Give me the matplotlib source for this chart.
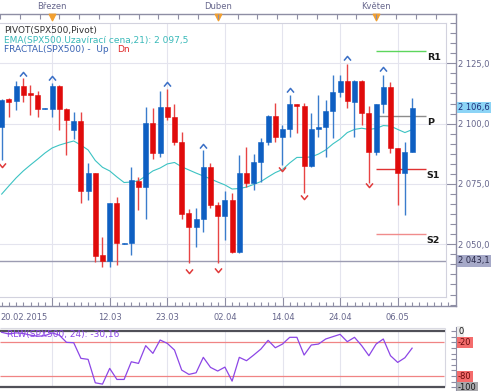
import numpy as np
import matplotlib
matplotlib.use("Agg")
import matplotlib.pyplot as plt
from matplotlib.path import Path
from matplotlib.ticker import MultipleLocator, FixedLocator, FuncFormatter

# daily candles SPX500, 20.02.2015 - 08.05.2015
opens = [2098.7, 2110.0, 2109.3, 2115.6, 2112.6, 2112.0, 2106.1, 2106.2, 2115.7, 2106.2,
         2097.4, 2101.2, 2072.2, 2079.4, 2045.6, 2043.2, 2067.0, 2050.3, 2050.4, 2076.3,
         2073.6, 2100.4, 2087.7, 2106.8, 2102.9, 2092.5, 2062.8, 2057.3, 2060.6, 2081.9,
         2066.2, 2061.7, 2068.3, 2046.9, 2079.7, 2075.5, 2084.1, 2092.4, 2103.2, 2094.3,
         2097.6, 2108.0, 2107.3, 2082.4, 2097.6, 2098.5, 2105.2, 2113.0, 2117.7, 2109.1,
         2117.8, 2104.3, 2088.4, 2108.0, 2115.3, 2089.8, 2079.7, 2088.4]
highs = [2110.1, 2110.5, 2117.8, 2118.8, 2116.0, 2113.6, 2106.4, 2116.7, 2115.9, 2106.4,
         2104.7, 2104.7, 2083.6, 2079.5, 2053.1, 2067.2, 2069.7, 2050.6, 2081.9, 2078.0,
         2106.8, 2106.4, 2113.6, 2114.2, 2108.1, 2096.7, 2064.5, 2064.9, 2089.1, 2083.6,
         2067.6, 2072.2, 2071.1, 2087.0, 2090.2, 2087.4, 2093.9, 2103.6, 2108.4, 2099.4,
         2111.9, 2108.2, 2108.4, 2104.3, 2111.9, 2109.8, 2120.2, 2120.2, 2124.8, 2117.9,
         2118.0, 2107.3, 2108.1, 2120.2, 2117.4, 2090.0, 2092.5, 2110.5]
lows = [2084.9, 2102.6, 2105.6, 2108.8, 2103.6, 2102.6, 2106.0, 2102.6, 2097.4, 2087.0,
        2093.5, 2067.2, 2068.3, 2042.8, 2040.7, 2040.5, 2041.4, 2050.2, 2045.6, 2064.2,
        2060.4, 2085.2, 2086.3, 2101.5, 2091.1, 2060.4, 2042.1, 2048.7, 2055.1, 2064.9,
        2042.1, 2051.8, 2046.3, 2046.5, 2073.9, 2072.5, 2075.9, 2091.1, 2092.5, 2082.9,
        2094.6, 2096.2, 2071.1, 2082.2, 2094.3, 2086.3, 2093.9, 2111.0, 2106.4, 2094.3,
        2099.4, 2075.3, 2087.0, 2104.3, 2087.7, 2066.3, 2062.1, 2088.2]
closes = [2109.8, 2109.0, 2115.6, 2112.0, 2111.7, 2106.2, 2106.3, 2115.7, 2106.2, 2101.5,
          2101.2, 2072.2, 2079.4, 2045.3, 2043.2, 2067.0, 2050.4, 2050.5, 2076.6, 2073.6,
          2100.4, 2087.7, 2106.8, 2102.6, 2092.5, 2062.5, 2057.3, 2060.6, 2082.1, 2066.2,
          2061.7, 2068.3, 2046.9, 2079.7, 2075.5, 2084.1, 2092.4, 2103.2, 2094.3, 2097.6,
          2108.0, 2107.3, 2082.4, 2097.6, 2098.7, 2105.2, 2113.1, 2117.7, 2109.4, 2117.8,
          2104.3, 2088.4, 2108.0, 2115.3, 2089.8, 2079.7, 2088.4, 2106.6]

ema21 = [2070.8, 2074.2, 2077.5, 2080.4, 2082.9, 2085.3, 2087.8, 2089.9, 2091.1, 2092.0,
         2092.8, 2091.1, 2089.1, 2084.7, 2081.9, 2080.4, 2077.9, 2075.6, 2075.8, 2076.3,
         2078.3, 2080.4, 2081.6, 2083.3, 2083.9, 2082.1, 2080.8, 2079.5, 2078.3, 2077.1,
         2075.8, 2074.6, 2072.9, 2073.1, 2073.7, 2074.8, 2076.0, 2077.9, 2079.7, 2081.0,
         2083.7, 2086.0, 2086.0, 2086.2, 2087.4, 2089.1, 2091.6, 2093.6, 2096.3, 2097.6,
         2098.1, 2097.6, 2098.0, 2099.2, 2099.0, 2097.6, 2096.3, 2097.5]

rlw = [-2, -5, -3, -4, -7, -9, -8, -3, -7, -19.9,
       -20.5, -48.4, -50.2, -92, -94.3, -66.3, -86, -86, -54.5, -57.4,
       -25.8, -39.5, -15.7, -21.7, -33.6, -69.3, -77, -74.1, -46.6, -64.5,
       -71, -64, -89, -46.6, -52.6, -42.5, -31.8, -16.3, -29.5, -22.9,
       -10.9, -10.9, -42.5, -24.6, -22.9, -13.9, -9.7, -5.6, -18.7, -10.9,
       -25.8, -43.7, -22.9, -13.9, -43.7, -55.6, -47.3, -30.2]

up_idx = [3, 7, 23, 28, 40, 48, 53]
up_val = [2120.6, 2118.8, 2116.4, 2090.7, 2113.9, 2127.3, 2122.5]
dn_idx = [0, 26, 30, 39, 42, 51]
dn_val = [2082.9, 2039.0, 2039.3, 2081.1, 2069.7, 2074.6]

date_idx = [7, 15, 23, 31, 39, 47, 55]
date_lbl = ['', '12.03', '23.03', '02.04', '14.04', '24.04', '06.05']
month_idx = [7, 30, 52]
month_lbl = ['Březen', 'Duben', 'Květen']
price_ticks = [2050, 2075, 2100, 2125]

pivot_names = ['R1', 'P', 'S1', 'S2']
pivot_vals = [2130.1, 2103.3, 2081.2, 2054.1]
pivot_cols = ['#5cd65c', '#8c8c8c', '#e03232', '#f08c8c']
pivot_from, pivot_to = 52, 58.9

last_price = 2106.6
ref_price = 2043.1
ema_last = 2097.5
rlw_last = -30.16

W, H = 500, 391
BAR_PX, BAR0 = 7.2, 1.7
def box(x0, y0, x1, y1):
    return [x0 / W, 1 - y1 / H, (x1 - x0) / W, (y1 - y0) / H]
def bx(px):
    return (px - BAR0) / BAR_PX
def py(px):
    return 2125 - (px - 63.3) / 2.413

def fmt_num(v, dec=1):
    return f"{v:,.{dec}f}".replace(',', ' ').replace('.', ',')

opens = np.array(opens); closes = np.array(closes)
highs = np.array(highs); lows = np.array(lows)
x = np.arange(len(closes))

fig = plt.figure(figsize=(W / 100, H / 100), dpi=100)
fig.patch.set_facecolor('white')

axis_col = '#8e8ea4'
lbl_col = '#66668c'
grid_col = '#e4e4ee'

# outer frame with the scales
frame = fig.add_axes(box(0, 14.3, 456, 306))
frame.set_facecolor('none')
frame.set_xlim(bx(0), bx(456))
frame.set_ylim(py(306), py(14.3))
frame.spines['left'].set_visible(False)
for s in ['top', 'right', 'bottom']:
    frame.spines[s].set_color(axis_col)
    frame.spines[s].set_linewidth(1.0)
frame.set_xticks(date_idx)
frame.set_xticklabels(date_lbl)
frame.set_xticks(np.arange(0, 63), minor=True)
frame.tick_params(axis='x', which='major', direction='in', length=6.5, width=0.8,
                  color=axis_col, labelsize=6, labelcolor=lbl_col, pad=5)
frame.tick_params(axis='x', which='minor', direction='in', length=2.8, width=0.8,
                  color=axis_col)
frame.yaxis.tick_right()
frame.yaxis.set_major_locator(FixedLocator(price_ticks))
frame.yaxis.set_minor_locator(MultipleLocator(25 / 6))
frame.yaxis.set_major_formatter(FuncFormatter(lambda v, p: fmt_num(v)))
frame.tick_params(axis='y', which='major', direction='in', length=7.2, width=0.8,
                  color=axis_col, labelsize=6, labelcolor=lbl_col, pad=1.5)
frame.tick_params(axis='y', which='minor', direction='in', length=4.3, width=0.8,
                  color=axis_col)
frame.annotate('20.02.2015', xy=(0, 0), xycoords='axes fraction', xytext=(0, -5),
               textcoords='offset points', ha='left', va='top', fontsize=6, color=lbl_col)

top = frame.twiny()
top.set_xlim(frame.get_xlim())
top.set_xticks(np.arange(52 - 2.75 * 19, 63, 2.75))
top.tick_params(axis='x', direction='in', length=3.6, width=0.8, color=axis_col,
                labeltop=False)
for s in top.spines.values():
    s.set_visible(False)
frame.scatter(month_idx, [1 - 2.6 / 291.7] * len(month_idx), marker='v', s=22,
              color='#f2a031', transform=frame.get_xaxis_transform(), clip_on=False, zorder=5)
for i, m in zip(month_idx, month_lbl):
    frame.annotate(m, xy=(i, 1), xycoords=('data', 'axes fraction'), xytext=(0, 5.6),
                   textcoords='offset points', ha='center', va='center', fontsize=6,
                   color=lbl_col)

# price labels on the scale
frame.annotate(fmt_num(last_price), xy=(1, last_price), xycoords=('axes fraction', 'data'),
               xytext=(1.5, 0), textcoords='offset points', ha='left', va='center',
               fontsize=6, color='#1d2f7a',
               bbox=dict(boxstyle='square,pad=0.15', fc='#8cd4f6', ec='none'))
frame.annotate(fmt_num(ref_price), xy=(1, ref_price), xycoords=('axes fraction', 'data'),
               xytext=(1.5, 0), textcoords='offset points', ha='left', va='center',
               fontsize=6, color='#2a2a4a',
               bbox=dict(boxstyle='square,pad=0.15', fc='#a6a9c8', ec='none'))

# main price area
ax = fig.add_axes(box(0, 23.3, 446, 297.3))
ax.set_xlim(bx(0), bx(446))
ax.set_ylim(py(297.3), py(23.3))
ax.spines['left'].set_visible(False)
for s in ['top', 'right', 'bottom']:
    ax.spines[s].set_color('#d2d2de')
    ax.spines[s].set_linewidth(0.8)
ax.set_xticks(date_idx)
ax.set_yticks(price_ticks)
ax.tick_params(length=0, labelbottom=False, labelleft=False)
ax.grid(True, color=grid_col, lw=0.8)
ax.set_axisbelow(True)

ax.axhline(ref_price, color='#9c9cb2', lw=1.0, zorder=1)
ax.plot(x, ema21, color='#3cc3c3', lw=0.8, zorder=2)

up = closes >= opens
dn = ~up
ax.vlines(x[up], lows[up], highs[up], color='#3a7ccc', lw=1.0, zorder=3)
ax.vlines(x[dn], lows[dn], highs[dn], color='#e84444', lw=1.0, zorder=3)
ax.bar(x[up], closes[up] - opens[up], bottom=opens[up], width=0.7, color='#0e5fc2',
       edgecolor='#0e5fc2', lw=0.4, zorder=4)
ax.bar(x[dn], closes[dn] - opens[dn], bottom=opens[dn], width=0.7, color='#e00b0b',
       edgecolor='#e00b0b', lw=0.4, zorder=4)

up_mark = Path([(-1, -0.6), (0, 0.6), (1, -0.6)], [Path.MOVETO, Path.LINETO, Path.LINETO])
dn_mark = Path([(-1, 0.6), (0, -0.6), (1, 0.6)], [Path.MOVETO, Path.LINETO, Path.LINETO])
ax.plot(up_idx, up_val, ls='none', marker=up_mark, ms=5, mew=1.1, mec='#3a6fc6',
        mfc='none', zorder=5)
ax.plot(dn_idx, dn_val, ls='none', marker=dn_mark, ms=5, mew=1.1, mec='#e03a3a',
        mfc='none', zorder=5)

ax.hlines(pivot_vals, pivot_from, pivot_to, colors=pivot_cols, lw=1.0, zorder=2)
for name, v in zip(pivot_names, pivot_vals):
    ax.annotate(name, xy=(pivot_to + 0.15, v), xytext=(0, -1.5), textcoords='offset points',
                ha='left', va='top', fontsize=6.8, fontweight='bold', color='#1a1a1a',
                annotation_clip=False)

fig.text(4 / W, 1 - 30 / H, 'PIVOT(SPX500,Pivot)', fontsize=6.5, color='#333333',
         va='center')
fig.text(4 / W, 1 - 40 / H, 'EMA(SPX500.Uzavírací cena,21): ' + fmt_num(ema_last),
         fontsize=6.5, color='#39b9b9', va='center')
fig.text(4 / W, 1 - 49.5 / H, 'FRACTAL(SPX500) -  Up', fontsize=6.5, color='#3a64b4',
         va='center')
fig.text(117 / W, 1 - 49.5 / H, 'Dn', fontsize=6.5, color='#e02828', va='center')

# RLW panel
rax = fig.add_axes(box(0, 327, 456, 391))
rax.set_xlim(bx(0), bx(456))
rax.set_ylim(-100 - (391 - 387.3) / 0.561, (331.2 - 327) / 0.561)
for s in ['left', 'top', 'bottom']:
    rax.spines[s].set_visible(False)
rax.spines['right'].set_color(axis_col)
rax.yaxis.tick_right()
rax.set_yticks(np.arange(-100, 1, 10))
rax.set_yticklabels([])
rax.set_xticks([])
rax.tick_params(axis='y', direction='in', length=3.6, width=0.8, color=axis_col)
rax.vlines(date_idx, -100, 0, color=grid_col, lw=0.8, zorder=1)
rax.vlines(bx(445), -100, 6.2, color='#d6d6e0', lw=0.8, zorder=1)
rax.hlines([6.2], bx(0), bx(445), color='#dadae2', lw=0.8, zorder=1)
rax.hlines([-20, -80], bx(0), bx(444), color='#f08484', lw=0.9, zorder=2)
rax.hlines([0, -100], bx(0), bx(445), color='#505058', lw=1.6, zorder=2)
rax.plot(x, rlw, color='#8c46e6', lw=0.9, zorder=3)
fig.text(7 / W, 1 - 334 / H, 'RLW(SPX500, 24): ' + fmt_num(rlw_last, 2), fontsize=6.5,
         color='#8c46e6', va='center')

for v, fc, tc in [(0, '#ececec', '#111111'), (-20, '#f46c6c', '#6a0c0c'),
                  (-80, '#f46c6c', '#6a0c0c'), (-100, '#a9a9ad', '#1a1a1a')]:
    rax.annotate(f"{v}", xy=(1, v), xycoords=('axes fraction', 'data'), xytext=(1.5, 0),
                 textcoords='offset points', ha='left', va='center', fontsize=6,
                 color=tc, bbox=dict(boxstyle='square,pad=0.12', fc=fc, ec='none'))

fig.savefig('out.png', dpi=100)
